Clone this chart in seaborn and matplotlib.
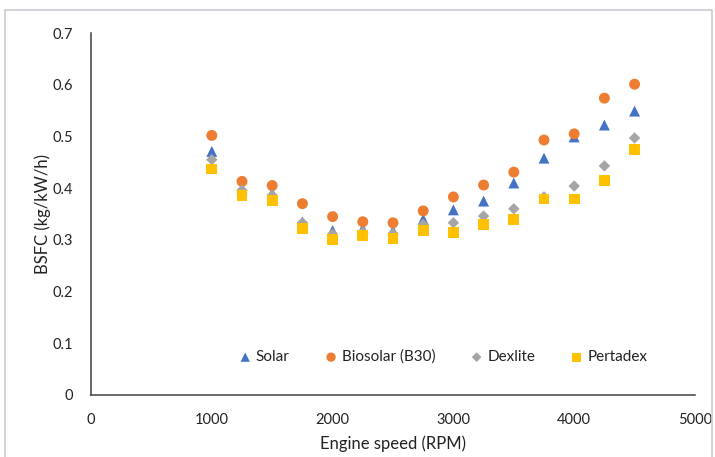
import numpy as np
import pandas as pd
import matplotlib
matplotlib.use("Agg")
import matplotlib.pyplot as plt
import seaborn as sns
from matplotlib.patches import Rectangle

speed = [1000, 1250, 1500, 1750, 2000, 2250, 2500, 2750, 3000, 3250, 3500, 3750, 4000, 4250, 4500]
solar = [0.471, 0.400, 0.391, 0.335, 0.318, 0.322, 0.318, 0.340, 0.358, 0.375, 0.410, 0.458, 0.499, 0.522, 0.549]
biosolar = [0.502, 0.413, 0.405, 0.370, 0.345, 0.335, 0.333, 0.356, 0.383, 0.406, 0.431, 0.493, 0.505, 0.574, 0.601]
dexlite = [0.455, 0.396, 0.386, 0.333, 0.311, 0.315, 0.312, 0.330, 0.333, 0.346, 0.360, 0.383, 0.404, 0.443, 0.497]
pertadex = [0.437, 0.385, 0.377, 0.322, 0.301, 0.308, 0.303, 0.318, 0.315, 0.329, 0.340, 0.379, 0.379, 0.414, 0.474]

series_names = ["Solar", "Biosolar (B30)", "Dexlite", "Pertadex"]
colors = ["#4472C4", "#ED7D31", "#A5A5A5", "#FFC000"]
markers = ["^", "o", "D", "s"]
sizes = [62, 62, 34, 62]

x_ticks = [0, 1000, 2000, 3000, 4000, 5000]
y_ticks = [0, 0.1, 0.2, 0.3, 0.4, 0.5, 0.6, 0.7]
y_tick_labels = ["0", "0.1", "0.2", "0.3", "0.4", "0.5", "0.6", "0.7"]

frames = []
for name, vals in zip(series_names, [solar, biosolar, dexlite, pertadex]):
    frames.append(pd.DataFrame({"speed": speed, "bsfc": vals, "fuel": name}))
df = pd.concat(frames, ignore_index=True)

sns.set_theme(style="white")
plt.rcParams["font.family"] = ["Lato", "DejaVu Sans"]

fig = plt.figure(figsize=(7.15, 4.57), dpi=100)
ax = fig.add_axes([91 / 715, 1 - 395 / 457, 604 / 715, 362 / 457])

# outer chart border
fig.patches.append(Rectangle((5 / 715, -0.05), 707 / 715, 1 - 10 / 457 + 0.05,
                             transform=fig.transFigure, fill=False,
                             edgecolor="#C8CDD3", linewidth=1.2))

for name, col, mk, sz in zip(series_names, colors, markers, sizes):
    sub = df[df["fuel"] == name]
    sns.scatterplot(data=sub, x="speed", y="bsfc", color=col, marker=mk, s=sz,
                    edgecolor="none", linewidth=0, ax=ax, label=name, zorder=3)

ax.set_xlim(0, 5000)
ax.set_ylim(0, 0.7)
ax.set_xticks(x_ticks)
ax.set_xticklabels([str(t) for t in x_ticks])
ax.set_yticks(y_ticks)
ax.set_yticklabels(y_tick_labels)

text_col = "#404040"
ax.tick_params(axis="both", labelsize=10.5, colors=text_col, length=5, width=1,
               direction="out")
ax.tick_params(axis="x", pad=8)
ax.tick_params(axis="y", pad=8)
for lab in ax.get_xticklabels() + ax.get_yticklabels():
    lab.set_color("#222222")

for s in ["top", "right"]:
    ax.spines[s].set_visible(False)
for s in ["left", "bottom"]:
    ax.spines[s].set_color("#404040")
    ax.spines[s].set_linewidth(1.1)

ax.set_xlabel("Engine speed (RPM)", fontsize=12, color="#222222", labelpad=6)
ax.set_ylabel("BSFC (kg/kW/h)", fontsize=12, color="#222222", labelpad=1)

h, l = ax.get_legend_handles_labels()
ax.legend(h, l, loc="center", bbox_to_anchor=(0.583, 0.105), ncol=4, frameon=False,
          fontsize=11, handlelength=0.8, handletextpad=0.3, columnspacing=2.3,
          markerscale=0.85, labelcolor="#222222")

fig.savefig("out.png", dpi=100)
